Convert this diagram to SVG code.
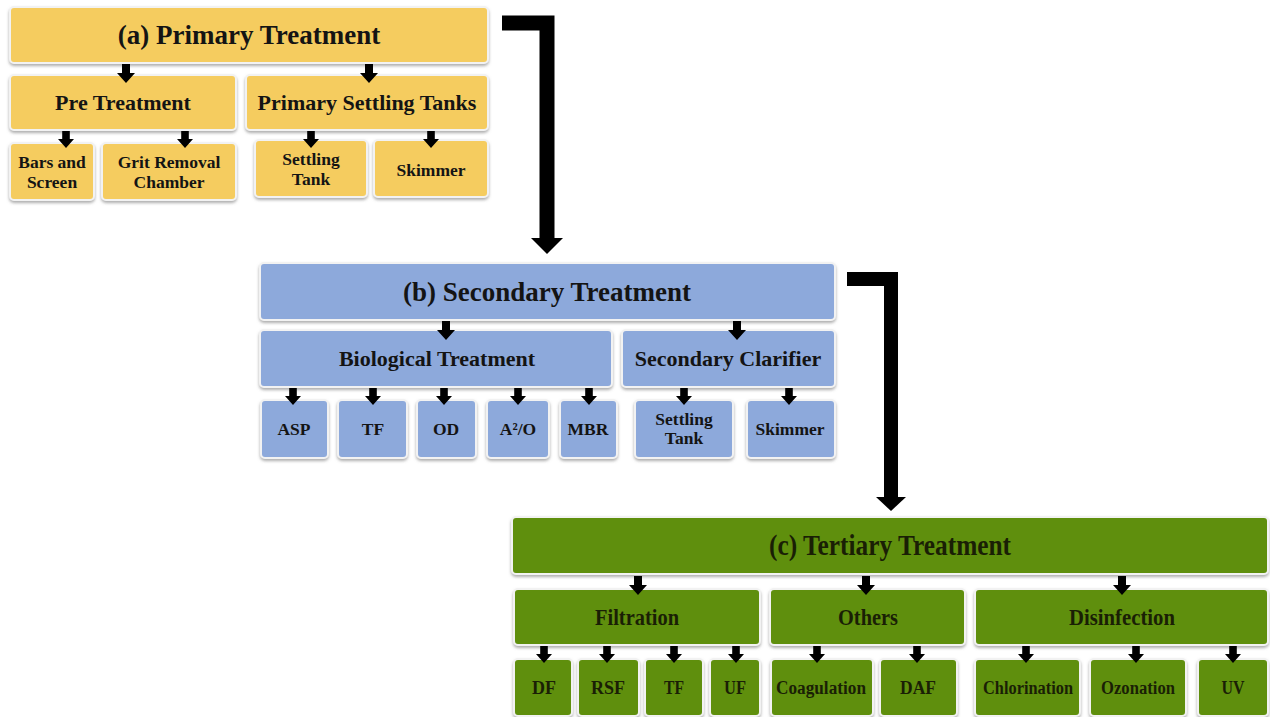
<svg xmlns="http://www.w3.org/2000/svg" width="1270" height="717" viewBox="0 0 1270 717">
<defs>
<filter id="sh" x="-10%" y="-10%" width="120%" height="130%">
<feDropShadow dx="0" dy="2" stdDeviation="1.5" flood-color="#777" flood-opacity="0.6"/>
</filter>
<polygon id="ar" points="-4,0 4,0 4,9 9,9 0,19 -9,9 -4,9"/>
<polygon id="ars" points="-3.8,0 3.8,0 3.8,8 8,8 0,17 -8,8 -3.8,8"/>
</defs>
<style>
rect{rx:4px;ry:4px;stroke:#f2f2f2;stroke-width:2;filter:url(#sh)}
.y{fill:#F5CC5E}
.b{fill:#8DA9DB}
.g{fill:#5F8F0B}
text{font-family:"Liberation Serif","Times New Roman",serif;font-weight:bold;text-anchor:middle;fill:#141414}
.t1{font-size:27px}
.t2{font-size:22px}
.t3{font-size:17.5px}
.tg{fill:#1a1f05}
.g1{font-size:29px}
.g2{font-size:23px}
.g3{font-size:18px}
.arrows use{fill:#000}
</style>
<rect width="1270" height="717" fill="#ffffff" style="filter:none;stroke:none"/>

<g id="primary">
<g id="a-main"><rect class="y" x="10" y="7" width="478" height="56"/><text class="t1" x="249" y="44">(a) Primary Treatment</text></g>
<g id="a-pre"><rect class="y" x="10" y="75" width="226" height="55"/><text class="t2" x="123" y="110">Pre Treatment</text></g>
<g id="a-pst"><rect class="y" x="246" y="75" width="242" height="55"/><text class="t2" x="367" y="110">Primary Settling Tanks</text></g>
<g id="a-bars"><rect class="y" x="10" y="143" width="84" height="57"/><text class="t3" x="52" y="168">Bars and</text><text class="t3" x="52" y="188">Screen</text></g>
<g id="a-grit"><rect class="y" x="102" y="143" width="134" height="57"/><text class="t3" x="169" y="168">Grit Removal</text><text class="t3" x="169" y="188">Chamber</text></g>
<g id="a-settle"><rect class="y" x="255" y="140" width="112" height="57"/><text class="t3" x="311" y="165">Settling</text><text class="t3" x="311" y="185">Tank</text></g>
<g id="a-skim"><rect class="y" x="374" y="140" width="114" height="57"/><text class="t3" x="431" y="176">Skimmer</text></g>
</g>

<g id="secondary">
<g id="b-main"><rect class="b" x="260" y="263" width="575" height="57"/><text class="t1" x="547" y="301">(b) Secondary Treatment</text></g>
<g id="b-bio"><rect class="b" x="260" y="330" width="352" height="57"/><text class="t2" x="437" y="366">Biological Treatment</text></g>
<g id="b-clar"><rect class="b" x="622" y="330" width="213" height="57"/><text class="t2" x="728" y="366">Secondary Clarifier</text></g>
<g id="b-asp"><rect class="b" x="261" y="400" width="67" height="58"/><text class="t3" x="294" y="435">ASP</text></g>
<g id="b-tf"><rect class="b" x="338" y="400" width="69" height="58"/><text class="t3" x="373" y="435">TF</text></g>
<g id="b-od"><rect class="b" x="417" y="400" width="59" height="58"/><text class="t3" x="446" y="435">OD</text></g>
<g id="b-a2o"><rect class="b" x="487" y="400" width="62" height="58"/><text class="t3" x="518" y="435">A²/O</text></g>
<g id="b-mbr"><rect class="b" x="560" y="400" width="57" height="58"/><text class="t3" x="588" y="435">MBR</text></g>
<g id="b-settle"><rect class="b" x="635" y="400" width="98" height="58"/><text class="t3" x="684" y="425">Settling</text><text class="t3" x="684" y="444">Tank</text></g>
<g id="b-skim"><rect class="b" x="747" y="400" width="88" height="58"/><text class="t3" x="790" y="435">Skimmer</text></g>
</g>

<g id="tertiary">
<g id="c-main"><rect class="g" x="512" y="517" width="756" height="57"/><text class="g1 tg" x="890" y="555" textLength="242" lengthAdjust="spacingAndGlyphs">(c) Tertiary Treatment</text></g>
<g id="c-filt"><rect class="g" x="514" y="589" width="246" height="56"/><text class="g2 tg" x="637" y="625" textLength="84" lengthAdjust="spacingAndGlyphs">Filtration</text></g>
<g id="c-oth"><rect class="g" x="770" y="589" width="195" height="56"/><text class="g2 tg" x="868" y="625" textLength="60" lengthAdjust="spacingAndGlyphs">Others</text></g>
<g id="c-dis"><rect class="g" x="975" y="589" width="293" height="56"/><text class="g2 tg" x="1122" y="625" textLength="106" lengthAdjust="spacingAndGlyphs">Disinfection</text></g>
<g id="c-df"><rect class="g" x="514" y="659" width="58" height="57"/><text class="g3 tg" x="544" y="694" textLength="24" lengthAdjust="spacingAndGlyphs">DF</text></g>
<g id="c-rsf"><rect class="g" x="578" y="659" width="61" height="57"/><text class="g3 tg" x="608" y="694" textLength="34" lengthAdjust="spacingAndGlyphs">RSF</text></g>
<g id="c-tf"><rect class="g" x="645" y="659" width="58" height="57"/><text class="g3 tg" x="674" y="694" textLength="20" lengthAdjust="spacingAndGlyphs">TF</text></g>
<g id="c-uf"><rect class="g" x="710" y="659" width="50" height="57"/><text class="g3 tg" x="735" y="694" textLength="22" lengthAdjust="spacingAndGlyphs">UF</text></g>
<g id="c-coag"><rect class="g" x="771" y="659" width="102" height="57"/><text class="g3 tg" x="821" y="694" textLength="90" lengthAdjust="spacingAndGlyphs">Coagulation</text></g>
<g id="c-daf"><rect class="g" x="880" y="659" width="77" height="57"/><text class="g3 tg" x="918" y="694" textLength="36" lengthAdjust="spacingAndGlyphs">DAF</text></g>
<g id="c-chl"><rect class="g" x="975" y="659" width="105" height="57"/><text class="g3 tg" x="1028" y="694" textLength="90" lengthAdjust="spacingAndGlyphs">Chlorination</text></g>
<g id="c-ozo"><rect class="g" x="1090" y="659" width="96" height="57"/><text class="g3 tg" x="1138" y="694" textLength="74" lengthAdjust="spacingAndGlyphs">Ozonation</text></g>
<g id="c-uv"><rect class="g" x="1198" y="659" width="70" height="57"/><text class="g3 tg" x="1233" y="694" textLength="23" lengthAdjust="spacingAndGlyphs">UV</text></g>
</g>

<g id="connectors">
<path d="M502,23 H547 V239" fill="none" stroke="#000" stroke-width="15"/>
<polygon points="531,238 563,238 547,254" fill="#000"/>
<path d="M847,279 H891 V498" fill="none" stroke="#000" stroke-width="14"/>
<polygon points="876,497 906,497 891,511" fill="#000"/>
<g class="arrows">
<use href="#ar" x="126" y="64"/><use href="#ar" x="369" y="64"/>
<use href="#ars" x="66" y="131"/><use href="#ars" x="185" y="131"/><use href="#ars" x="311" y="131"/><use href="#ars" x="431" y="131"/>
<use href="#ar" x="446" y="321"/><use href="#ar" x="737" y="321"/>
<use href="#ars" x="293" y="388"/><use href="#ars" x="373" y="388"/><use href="#ars" x="444" y="388"/><use href="#ars" x="518" y="388"/><use href="#ars" x="589" y="388"/><use href="#ars" x="684" y="388"/><use href="#ars" x="789" y="388"/>
<use href="#ar" x="638" y="576"/><use href="#ar" x="866" y="576"/><use href="#ar" x="1122" y="576"/>
<use href="#ars" x="544" y="646"/><use href="#ars" x="607" y="646"/><use href="#ars" x="674" y="646"/><use href="#ars" x="736" y="646"/><use href="#ars" x="817" y="646"/><use href="#ars" x="917" y="646"/><use href="#ars" x="1026" y="646"/><use href="#ars" x="1136" y="646"/><use href="#ars" x="1233" y="646"/>
</g>
</g>
</svg>
